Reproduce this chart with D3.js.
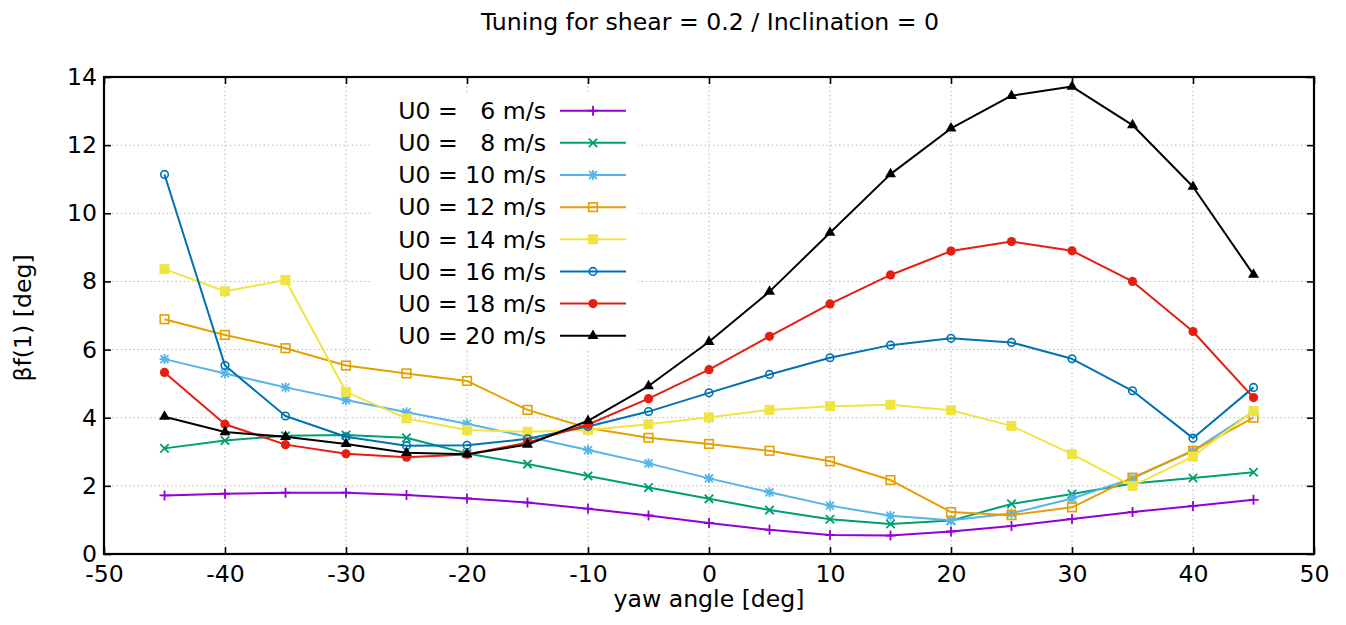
<!DOCTYPE html>
<html>
<head>
<meta charset="utf-8">
<script src="https://cdn.jsdelivr.net/npm/d3@7"></script>
<style>
  html, body { margin: 0; padding: 0; background: #fff; }
  svg { display: block; font-family: "DejaVu Sans", sans-serif; }
  .legend text { white-space: pre; }
</style>
</head>
<body>
<svg id="chart" width="1346" height="625"></svg>
<script>
// Yaw angles (deg) at which βf(1) was tuned
const yaw = [-45, -40, -35, -30, -25, -20, -15, -10, -5, 0, 5, 10, 15, 20, 25, 30, 35, 40, 45];

// βf(1) [deg] for each free-stream speed U0
const u6  = [1.72, 1.77, 1.80, 1.80, 1.73, 1.63, 1.51, 1.33, 1.13, 0.91, 0.71, 0.56, 0.54, 0.66, 0.82, 1.03, 1.23, 1.41, 1.59];
const u8  = [3.10, 3.33, 3.47, 3.49, 3.41, 2.95, 2.64, 2.29, 1.95, 1.62, 1.29, 1.02, 0.88, 0.98, 1.47, 1.76, 2.07, 2.23, 2.40];
const u10 = [5.72, 5.30, 4.89, 4.52, 4.16, 3.82, 3.44, 3.05, 2.66, 2.22, 1.81, 1.42, 1.12, 0.99, 1.19, 1.63, 2.22, 3.03, 4.18];
const u12 = [6.89, 6.43, 6.04, 5.53, 5.30, 5.08, 4.23, 3.70, 3.41, 3.23, 3.03, 2.72, 2.17, 1.23, 1.14, 1.37, 2.24, 3.03, 4.00];
const u14 = [8.36, 7.71, 8.04, 4.76, 3.98, 3.64, 3.59, 3.64, 3.81, 4.01, 4.23, 4.34, 4.38, 4.22, 3.76, 2.93, 2.00, 2.86, 4.20];
const u16 = [11.14, 5.53, 4.05, 3.44, 3.18, 3.19, 3.38, 3.74, 4.18, 4.73, 5.27, 5.76, 6.13, 6.33, 6.21, 5.73, 4.79, 3.40, 4.89];
const u18 = [5.33, 3.81, 3.21, 2.94, 2.84, 2.92, 3.27, 3.80, 4.56, 5.41, 6.39, 7.34, 8.19, 8.89, 9.17, 8.90, 8.00, 6.53, 4.59];
const u20 = [4.03, 3.58, 3.44, 3.23, 2.97, 2.93, 3.21, 3.91, 4.93, 6.23, 7.70, 9.43, 11.15, 12.49, 13.45, 13.72, 12.59, 10.78, 8.20];

const speeds = [6, 8, 10, 12, 14, 16, 18, 20];
const seriesValues = [u6, u8, u10, u12, u14, u16, u18, u20];
const colors = ["#9400d3", "#009e73", "#56b4e9", "#e69f00", "#f0e442", "#0072b2", "#e51e10", "#000000"];
const markers = ["plus", "cross", "star", "square", "squareFilled", "circle", "circleFilled", "triangleFilled"];

const xTicks = [-50, -40, -30, -20, -10, 0, 10, 20, 30, 40, 50];
const yTicks = [0, 2, 4, 6, 8, 10, 12, 14];

const titleText = "Tuning for shear = 0.2 / Inclination = 0";
const xLabel = "yaw angle [deg]";
const yLabel = "βf(1) [deg]";

const svg = d3.select("#chart");
const FONT = 23.6;

const x = d3.scaleLinear().domain([-50, 50]).range([104, 1314]);
const y = d3.scaleLinear().domain([0, 14]).range([554, 77]);

// Grid (dotted), drawn under everything else
const grid = svg.append("g")
  .attr("stroke", "#b4b4b4").attr("stroke-width", 1).attr("stroke-dasharray", "1.4,2.8");
grid.selectAll("line.gx").data(xTicks.slice(1, -1)).join("line")
  .attr("x1", d => x(d)).attr("x2", d => x(d))
  .attr("y1", y(0)).attr("y2", y(14));
grid.selectAll("line.gy").data(yTicks.slice(1, -1)).join("line")
  .attr("x1", x(-50)).attr("x2", x(50))
  .attr("y1", d => y(d)).attr("y2", d => y(d));

// Opaque key box
const keyBox = { x0: 372, x1: 638, y0: 93, y1: 350 };
svg.append("rect")
  .attr("x", keyBox.x0).attr("y", keyBox.y0)
  .attr("width", keyBox.x1 - keyBox.x0).attr("height", keyBox.y1 - keyBox.y0)
  .attr("fill", "#fff");

// Axes: ticks point inward and are mirrored on the opposite sides
const plainNum = d => String(d);
function styleAxis(g) {
  g.select(".domain").remove();
  g.selectAll(".tick line").attr("stroke", "#000").attr("stroke-width", 1.6);
  g.selectAll(".tick text").attr("fill", "#000")
    .attr("font-family", "DejaVu Sans, sans-serif").attr("font-size", FONT);
}
svg.append("g").attr("transform", `translate(0,${y(0)})`)
  .call(d3.axisBottom(x).tickValues(xTicks).tickSize(-7).tickPadding(11).tickFormat(plainNum))
  .call(styleAxis);
svg.append("g").attr("transform", `translate(0,${y(14)})`)
  .call(d3.axisTop(x).tickValues(xTicks).tickSize(-7).tickFormat(""))
  .call(styleAxis);
svg.append("g").attr("transform", `translate(${x(-50)},0)`)
  .call(d3.axisLeft(y).tickValues(yTicks).tickSize(-7).tickPadding(7).tickFormat(plainNum))
  .call(styleAxis);
svg.append("g").attr("transform", `translate(${x(50)},0)`)
  .call(d3.axisRight(y).tickValues(yTicks).tickSize(-7).tickFormat(""))
  .call(styleAxis);

// Plot border
svg.append("rect")
  .attr("x", x(-50)).attr("y", y(14))
  .attr("width", x(50) - x(-50)).attr("height", y(0) - y(14))
  .attr("fill", "none").attr("stroke", "#000").attr("stroke-width", 2.2);

// Point markers
function drawMarker(g, type, color) {
  const s = 5;
  switch (type) {
    case "plus":
      g.append("path").attr("d", `M${-s},0H${s}M0,${-s}V${s}`)
        .attr("stroke", color).attr("stroke-width", 1.8).attr("fill", "none");
      break;
    case "cross":
      g.append("path").attr("d", `M${-4.2},${-4.2}L4.2,4.2M${-4.2},4.2L4.2,${-4.2}`)
        .attr("stroke", color).attr("stroke-width", 1.8).attr("fill", "none");
      break;
    case "star":
      g.append("path").attr("d", `M${-s},0H${s}M0,${-s}V${s}M-4,-4L4,4M-4,4L4,-4`)
        .attr("stroke", color).attr("stroke-width", 1.8).attr("fill", "none");
      break;
    case "square":
      g.append("rect").attr("x", -4.3).attr("y", -4.3).attr("width", 8.6).attr("height", 8.6)
        .attr("stroke", color).attr("stroke-width", 1.6).attr("fill", "none");
      break;
    case "squareFilled":
      g.append("rect").attr("x", -5).attr("y", -5).attr("width", 10).attr("height", 10)
        .attr("fill", color);
      break;
    case "circle":
      g.append("circle").attr("r", 3.8)
        .attr("stroke", color).attr("stroke-width", 1.6).attr("fill", "none");
      break;
    case "circleFilled":
      g.append("circle").attr("r", 4.6).attr("fill", color);
      break;
    case "triangleFilled":
      g.append("path").attr("d", d3.symbol(d3.symbolTriangle, 52)()).attr("fill", color);
      break;
  }
}

const line = d3.line().x(d => x(d[0])).y(d => y(d[1]));

seriesValues.forEach((vals, i) => {
  const pts = yaw.map((a, j) => [a, vals[j]]);
  const g = svg.append("g");
  g.append("path").datum(pts).attr("d", line)
    .attr("fill", "none").attr("stroke", colors[i]).attr("stroke-width", 2)
    .attr("stroke-linejoin", "round");
  g.selectAll("g.pt").data(pts).join("g")
    .attr("transform", d => `translate(${x(d[0])},${y(d[1])})`)
    .each(function () { drawMarker(d3.select(this), markers[i], colors[i]); });
});

// Key
const legend = svg.append("g").attr("class", "legend");
speeds.forEach((sp, i) => {
  const cy = 110.7 + i * 32.15;
  const label = "U0 = " + (sp < 10 ? "  " : "") + sp + " m/s";
  legend.append("text")
    .attr("x", 546).attr("y", cy).attr("dy", "0.35em")
    .attr("text-anchor", "end").attr("font-size", FONT).attr("fill", "#000")
    .attr("xml:space", "preserve")
    .text(label);
  legend.append("line").attr("x1", 560).attr("x2", 626).attr("y1", cy).attr("y2", cy)
    .attr("stroke", colors[i]).attr("stroke-width", 2);
  drawMarker(legend.append("g").attr("transform", `translate(593,${cy})`), markers[i], colors[i]);
});

// Titles
svg.append("text").attr("x", 710).attr("y", 29.5).attr("text-anchor", "middle")
  .attr("font-size", FONT).attr("fill", "#000").text(titleText);
svg.append("text").attr("x", 709).attr("y", 607).attr("text-anchor", "middle")
  .attr("font-size", FONT).attr("fill", "#000").text(xLabel);
svg.append("text").attr("transform", "translate(31,318) rotate(-90)").attr("text-anchor", "middle")
  .attr("font-size", FONT).attr("fill", "#000").text(yLabel);
</script>
</body>
</html>
